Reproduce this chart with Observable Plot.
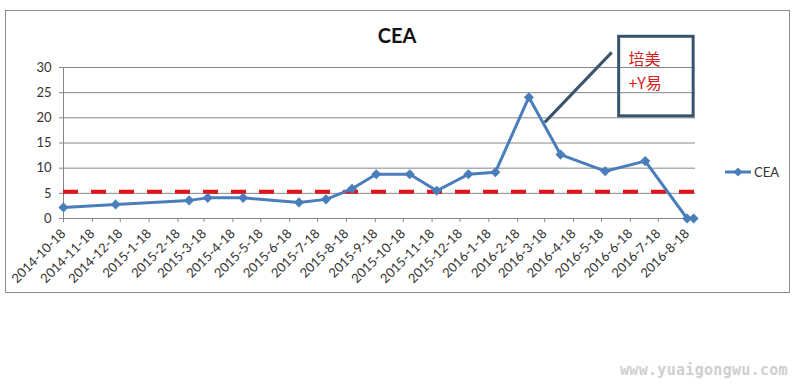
<!DOCTYPE html>
<html><head><meta charset="utf-8">
<script src="https://cdn.jsdelivr.net/npm/d3@7"></script>
<script src="https://cdn.jsdelivr.net/npm/@observablehq/plot@0.6"></script>
<style>
body{margin:0;background:#fff}
#wrap{position:relative;width:801px;height:384px;font-family:Lato,sans-serif;overflow:hidden}
#wrap > svg{position:absolute;left:0;top:0}
.border{position:absolute;left:5px;top:10px;width:783px;height:281px;border:1px solid #8c8c8c;pointer-events:none}
.title{position:absolute;left:0;top:25px;width:794px;text-align:center;font:bold 20px/20px Lato,sans-serif;color:#111}
.legend{position:absolute;left:724px;top:164px;font:13px/16px Lato,sans-serif;color:#333;display:flex;align-items:center}
.legend svg{display:block}
.wm{position:absolute;left:620px;top:362px;font:bold 15px/16px "DejaVu Sans Mono",monospace;color:#cfcfcf;letter-spacing:0.3px}
</style>
</head><body><div id="wrap"><div class="border"></div></div>
<script>
const seriesName = "CEA";
const chartTitle = "CEA";
const obsDates = ["2014-10-18","2014-12-13","2015-3-2","2015-3-22","2015-4-29","2015-6-28","2015-7-27","2015-8-24","2015-9-19","2015-10-25","2015-11-23","2015-12-27","2016-1-25","2016-3-1","2016-4-4","2016-5-22","2016-7-4","2016-8-18","2016-8-25"];
const obsValues = [2.2,2.8,3.6,4.1,4.1,3.2,3.8,5.9,8.8,8.8,5.5,8.8,9.2,24.1,12.7,9.4,11.4,0,0];
const tickLabels = ["2014-10-18","2014-11-18","2014-12-18","2015-1-18","2015-2-18","2015-3-18","2015-4-18","2015-5-18","2015-6-18","2015-7-18","2015-8-18","2015-9-18","2015-10-18","2015-11-18","2015-12-18","2016-1-18","2016-2-18","2016-3-18","2016-4-18","2016-5-18","2016-6-18","2016-7-18","2016-8-18"];
const yTicks = [0,5,10,15,20,25,30];
const xDomain = ["2014-10-18","2016-8-27"];
const refValue = 5.3;
const noteLines = ["培美","+Y易"];
const noteAnchorX = "2016-6-16", noteAnchorY = 33.7;
const noteBoxX = ["2016-6-6","2016-8-25"], noteBoxY = [20.3,36.1];
const calloutX = ["2016-3-18","2016-5-29"], calloutY = [19.1,33.0];
const watermark = "www.yuaigongwu.com";

const parse = s => { const [y,m,d] = s.split("-").map(Number); return new Date(Date.UTC(y, m-1, d)); };
const data = obsDates.map((d,i) => ({date: parse(d), value: obsValues[i]}));
const tickDates = tickLabels.map(parse);
const labelOf = new Map(tickDates.map((d,i) => [+d, tickLabels[i]]));
const blue = "#4a7ebb", grid = "#868686";

const chart = Plot.plot({
  width: 801, height: 384,
  marginLeft: 63, marginRight: 106, marginTop: 67, marginBottom: 166,
  style: {fontFamily: "Lato, sans-serif", fontSize: "13px", color: "#333", background: "transparent", overflow: "visible"},
  x: {type: "utc", domain: xDomain.map(parse)},
  y: {domain: [yTicks[0], yTicks[yTicks.length-1]]},
  marks: [
    Plot.gridY(yTicks, {stroke: grid, strokeOpacity: 1}),
    Plot.ruleY([0], {stroke: grid}),
    Plot.ruleX([parse(xDomain[0])], {stroke: grid}),
    Plot.axisY(yTicks, {tickSize: 4, tickPadding: 8, stroke: grid, fill: "#333", fontSize: 13, label: null}),
    Plot.axisX(tickDates, {tickSize: 4, tickPadding: 9, tickRotate: -45, tickFormat: d => labelOf.get(+d), stroke: grid, fill: "#333", fontSize: 13, label: null}),
    Plot.ruleY([refValue], {stroke: "#e3141c", strokeWidth: 4, strokeDasharray: "15,13"}),
    Plot.line(data, {x: "date", y: "value", stroke: blue, strokeWidth: 3}),
    Plot.dot(data, {x: "date", y: "value", symbol: "diamond2", r: 3.6, fill: blue, stroke: blue}),
    Plot.link([{x1: parse(calloutX[0]), y1: calloutY[0], x2: parse(calloutX[1]), y2: calloutY[1]}], {x1: "x1", y1: "y1", x2: "x2", y2: "y2", stroke: "#3a5470", strokeWidth: 3}),
    Plot.rect([{x1: parse(noteBoxX[0]), x2: parse(noteBoxX[1]), y1: noteBoxY[0], y2: noteBoxY[1]}], {x1: "x1", x2: "x2", y1: "y1", y2: "y2", fill: "none", stroke: "#3a5470", strokeWidth: 3}),
    Plot.text([{x: parse(noteAnchorX), y: noteAnchorY, t: noteLines.join("\n")}], {x: "x", y: "y", text: "t", textAnchor: "start", lineAnchor: "top", lineHeight: 1.45, fontSize: 16, fill: "#d42020", fontFamily: "Noto Sans CJK SC"})
  ]
});
const wrap = document.getElementById("wrap");
wrap.insertBefore(chart, wrap.firstChild);

const t = document.createElement("div"); t.className = "title"; t.textContent = chartTitle; wrap.appendChild(t);
const lg = document.createElement("div"); lg.className = "legend";
lg.innerHTML = `<svg width="28" height="12" style="margin-right:2px"><line x1="1" y1="6" x2="27" y2="6" stroke="${blue}" stroke-width="3"/><path d="M14 1.5 L18.5 6 L14 10.5 L9.5 6Z" fill="${blue}"/></svg><span></span>`;
lg.querySelector("span").textContent = seriesName;
wrap.appendChild(lg);
const w = document.createElement("div"); w.className = "wm"; w.textContent = watermark; wrap.appendChild(w);
</script>
</body></html>
